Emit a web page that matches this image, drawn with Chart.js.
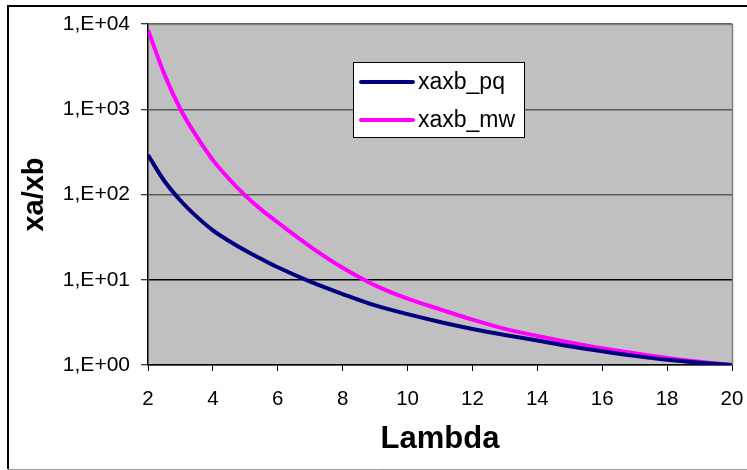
<!DOCTYPE html>
<html>
<head>
<meta charset="utf-8">
<script src="https://cdn.jsdelivr.net/npm/chart.js@4/dist/chart.umd.min.js"></script>
<style>
  html, body { margin: 0; padding: 0; background: #ffffff; }
  #wrap { width: 747px; height: 470px; position: relative; }
</style>
</head>
<body>
<div id="wrap"><canvas id="c" width="747" height="470"></canvas></div>
<script>
// ---- data ----
const lambda = [2, 2.5, 3, 3.5, 4, 4.5, 5, 5.5, 6, 7, 8, 9, 10, 11, 12, 13, 14, 15, 16, 17, 18, 19, 20];
const xaxb_pq = [290, 145, 85, 55, 38, 28.5, 22, 17.5, 14, 9.5, 6.8, 5.0, 3.95, 3.2, 2.65, 2.25, 1.94, 1.66, 1.45, 1.28, 1.15, 1.06, 1.0];
const xaxb_mw = [8500, 2600, 1000, 480, 253, 152, 97, 66, 47, 24.5, 13.8, 8.6, 6.0, 4.5, 3.4, 2.65, 2.19, 1.84, 1.57, 1.37, 1.21, 1.09, 1.0];
const seriesNames = ['xaxb_pq', 'xaxb_mw'];
const yTickValues = [1, 10, 100, 1000, 10000];
const yTickLabels = ['1,E+00', '1,E+01', '1,E+02', '1,E+03', '1,E+04'];
const xTitle = 'Lambda';
const yTitle = 'xa/xb';

const FONT = 'Arial, "Liberation Sans", Helvetica, sans-serif';

function pts(ys) { return lambda.map((x, i) => ({ x: x, y: ys[i] })); }

const bgPlugin = {
  id: 'bgPlugin',
  beforeDraw(chart) {
    const { ctx, chartArea: a } = chart;
    ctx.save();
    ctx.fillStyle = '#ffffff';
    ctx.fillRect(0, 0, chart.width, chart.height);
    ctx.fillStyle = '#c0c0c0';
    ctx.fillRect(a.left, a.top, a.right - a.left, a.bottom - a.top);
    ctx.restore();
  },
  afterDraw(chart) {
    const { ctx, chartArea: a } = chart;
    ctx.save();
    // plot area top/right border (gray)
    ctx.strokeStyle = '#808080';
    ctx.lineWidth = 1.5;
    ctx.beginPath();
    ctx.moveTo(a.left, a.top + 0.5);
    ctx.lineTo(a.right + 0.5, a.top + 0.5);
    ctx.lineTo(a.right + 0.5, a.bottom);
    ctx.stroke();
    // outer frame
    ctx.strokeStyle = '#000000';
    ctx.lineWidth = 2;
    ctx.beginPath();
    ctx.moveTo(8, 469);
    ctx.lineTo(8, 6);
    ctx.lineTo(chart.width, 6);
    ctx.stroke();
    ctx.strokeStyle = '#a0a0a0';
    ctx.lineWidth = 1;
    ctx.beginPath();
    ctx.moveTo(8, 469.5);
    ctx.lineTo(chart.width, 469.5);
    ctx.stroke();
    // legend box
    const lx = a.left + 205, ly = a.top + 38, lw = 171, lh = 75;
    ctx.fillStyle = '#ffffff';
    ctx.fillRect(lx, ly, lw, lh);
    ctx.strokeStyle = '#000000';
    ctx.lineWidth = 1;
    ctx.strokeRect(lx + 0.5, ly + 0.5, lw, lh);
    ctx.font = '23px ' + FONT;
    ctx.textBaseline = 'middle';
    ctx.textAlign = 'left';
    chart.data.datasets.forEach((ds, i) => {
      const yy = ly + 20 + i * 38;
      ctx.strokeStyle = ds.borderColor;
      ctx.lineWidth = 4;
      ctx.lineCap = 'round';
      ctx.beginPath();
      ctx.moveTo(lx + 8, yy);
      ctx.lineTo(lx + 60, yy);
      ctx.stroke();
      ctx.fillStyle = '#000000';
      ctx.fillText(ds.label, lx + 65, yy + 1);
    });
    ctx.restore();
  }
};

new Chart(document.getElementById('c'), {
  type: 'line',
  data: {
    datasets: [
      { label: seriesNames[0], data: pts(xaxb_pq), borderColor: '#000080', backgroundColor: '#000080',
        borderWidth: 4, pointRadius: 0, cubicInterpolationMode: 'monotone', fill: false },
      { label: seriesNames[1], data: pts(xaxb_mw), borderColor: '#ff00ff', backgroundColor: '#ff00ff',
        borderWidth: 4, pointRadius: 0, cubicInterpolationMode: 'monotone', fill: false }
    ]
  },
  options: {
    responsive: false,
    animation: false,
    devicePixelRatio: 1,
    layout: { padding: { left: 0, top: 24, right: 15, bottom: 0 } },
    plugins: { legend: { display: false }, tooltip: { enabled: false } },
    scales: {
      x: {
        type: 'linear', min: 2, max: 20,
        ticks: { stepSize: 2, color: '#000', font: { family: FONT, size: 20.5 }, padding: 16, maxRotation: 0 },
        grid: { drawOnChartArea: false, tickLength: 6, tickColor: '#000', tickWidth: 1 },
        border: { color: '#000', width: 1.5 },
        title: { display: true, text: xTitle, color: '#000', font: { family: FONT, size: 31, weight: 'bold' }, padding: { top: 0, bottom: 12 } },
        afterFit(s) { s.height = 105; s.paddingLeft = 0; s.paddingRight = 0; }
      },
      y: {
        type: 'logarithmic', min: 1, max: 10000,
        afterBuildTicks(s) { s.ticks = yTickValues.map(v => ({ value: v })); },
        ticks: {
          color: '#000', font: { family: FONT, size: 21 }, padding: 11,
          callback(v) { const i = yTickValues.indexOf(v); return i >= 0 ? yTickLabels[i] : ''; }
        },
        grid: {
          color: (c) => (c.tick && c.tick.value === 10 ? '#000000' : '#5a5a5a'),
          lineWidth: 1.5, tickLength: 7, tickColor: '#000', tickWidth: 1
        },
        border: { color: '#000', width: 1.5 },
        title: { display: true, text: yTitle, color: '#000', font: { family: FONT, size: 29, weight: 'bold' }, padding: { top: 18, bottom: 0 } },
        afterFit(s) { s.width = 148; s.paddingTop = 0; s.paddingBottom = 0; }
      }
    }
  },
  plugins: [bgPlugin]
});
</script>
</body>
</html>
